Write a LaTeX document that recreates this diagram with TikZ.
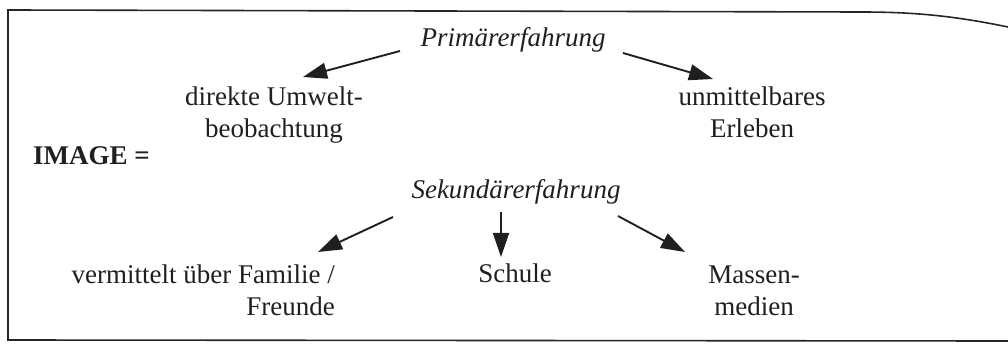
\documentclass[tikz,border=0pt]{standalone}
\usepackage{fontspec}
\setmainfont{Liberation Serif}
\usetikzlibrary{arrows.meta,calc}
\begin{document}
\begin{tikzpicture}[x=1pt,y=-1pt,
  lbl/.style={font=\fontsize{27}{32}\selectfont, inner sep=0pt, anchor=base, align=center, text=black!88},
  head/.style={lbl, font=\fontsize{27}{32}\selectfont\itshape},
  arr/.style={-{Triangle[length=24pt,width=16pt]}, line width=1.9pt, draw=black!88},
  frame/.style={line width=1.6pt, draw=black!85}]
\useasboundingbox (0,0) rectangle (1008,347);
\draw[frame] (1008,27) .. controls (950,15) and (910,12) .. (860,12) -- (8,10) -- (8,340) -- (1008,341);
\node[head] (prim) at (513,47) {Primärerfahrung};
\node[lbl] (dir) at (274,138) {direkte Umwelt-\\beobachtung};
\node[lbl] (unm) at (752,138) {unmittelbares\\Erleben};
\node[lbl, font=\fontsize{27}{32}\selectfont\bfseries, anchor=base west] (img) at (33,165) {IMAGE =};
\node[head] (sek) at (516,199) {Sekundärerfahrung};
\node[lbl, align=right, anchor=base east] (fam) at (335,315) {vermittelt über Familie /\\Freunde};
\node[lbl] (sch) at (515,282) {Schule};
\node[lbl] (mas) at (754,315) {Massen-\\medien};
\draw[arr] ($(prim.base)+(-113,4)$) -- ($(dir.base)+(29,-61)$);
\draw[arr] ($(prim.base)+(110,6)$) -- ($(unm.base)+(-39,-59)$);
\draw[arr] ($(sek.base)+(-123,18)$) -- ($(fam.base east)+(-17,-63)$);
\draw[arr] ($(sek.base)+(-15,13)$) -- ($(sch.base)+(-14,-25)$);
\draw[arr] ($(sek.base)+(102,17)$) -- ($(mas.base)+(-69,-63)$);
\end{tikzpicture}
\end{document}
